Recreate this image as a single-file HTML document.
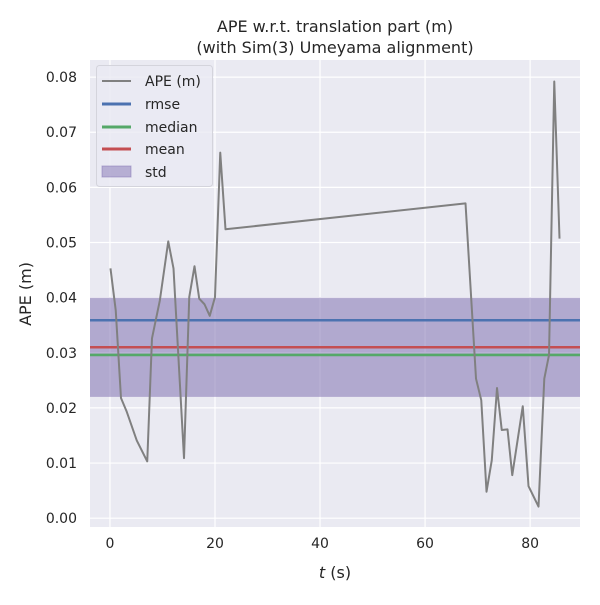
<!DOCTYPE html>
<html><head><meta charset="utf-8"><style>
body{margin:0;background:#fff;}
svg text{font-family:"DejaVu Sans","Liberation Sans",sans-serif;fill:#262626;}
</style></head><body>
<svg id="chart" width="600" height="600">
<text x="335" y="32" font-size="16" text-anchor="middle">APE w.r.t. translation part (m)</text>
<text x="335" y="53" font-size="16" text-anchor="middle">(with Sim(3) Umeyama alignment)</text>
<rect x="90" y="60" width="490" height="467" fill="#eaeaf2"/>
<g id="grid"></g><g id="marks"></g><g id="ticks"></g>
<text x="335" y="578" font-size="16" text-anchor="middle"><tspan font-style="italic">t</tspan> (s)</text>
<text transform="translate(31,294) rotate(-90)" font-size="16" text-anchor="middle">APE (m)</text>
<g>
<rect x="96.5" y="65.5" width="116" height="121" rx="3" fill="#eaeaf2" fill-opacity="0.8" stroke="#d4d4dc"/>
<g><line x1="102" y1="81" x2="131" y2="81" stroke="#808080" stroke-width="2"/><text x="145" y="86" font-size="14">APE (m)</text></g>
<g><line x1="102" y1="104" x2="131" y2="104" stroke="#4c72b0" stroke-width="3"/><text x="145" y="109" font-size="14">rmse</text></g>
<g><line x1="102" y1="127" x2="131" y2="127" stroke="#55a868" stroke-width="3"/><text x="145" y="132" font-size="14">median</text></g>
<g><line x1="102" y1="149" x2="131" y2="149" stroke="#c44e52" stroke-width="3"/><text x="145" y="154" font-size="14">mean</text></g>
<g><rect x="102" y="166" width="29" height="11" fill="#8172b3" fill-opacity="0.5" stroke="#8172b3" stroke-opacity="0.5"/><text x="145" y="177" font-size="14">std</text></g>
</g>
</svg>
<script>
const times=[0.1,1.1,2.1,3.2,5.1,7.1,8.0,9.5,11.1,12.1,14.1,15.1,16.1,17.0,18.0,19.0,20.0,21.0,22.0,67.7,69.7,70.7,71.7,72.7,73.7,74.6,75.7,76.6,78.6,79.7,81.6,82.7,83.6,84.6,85.6];
const apeValues=[0.0453,0.0377,0.0218,0.0193,0.0141,0.0103,0.0326,0.0395,0.0502,0.0453,0.0109,0.0401,0.0457,0.0398,0.0388,0.0367,0.0401,0.0663,0.0524,0.0571,0.0253,0.0214,0.0048,0.0105,0.0236,0.0160,0.0161,0.0078,0.0203,0.0058,0.0021,0.0253,0.0296,0.0792,0.0507];
const rmse=0.0359, median=0.0296, mean=0.0310, std=0.0090;
const xTicks=[0,20,40,60,80];
const yTicks=[0,0.01,0.02,0.03,0.04,0.05,0.06,0.07,0.08];
const yTickLabels=["0.00","0.01","0.02","0.03","0.04","0.05","0.06","0.07","0.08"];
const NS="http://www.w3.org/2000/svg";
const X0=90,X1=580,Y0=60,Y1=527,xmin=-3.8,xmax=89.5,ymin=-0.0016,ymax=0.0831;
const xs=t=>X0+(t-xmin)/(xmax-xmin)*(X1-X0);
const ys=v=>Y1-(v-ymin)/(ymax-ymin)*(Y1-Y0);
function mk(tag,attrs,parent){const e=document.createElementNS(NS,tag);for(const k in attrs)e.setAttribute(k,attrs[k]);document.getElementById(parent).appendChild(e);return e;}
xTicks.forEach(t=>{
 const l=mk('line',{x1:xs(t),x2:xs(t),y1:Y0,y2:Y1,stroke:'#fff','stroke-width':1.2},'grid');
 
 
 const tx=mk('text',{x:xs(t),y:Y1+21,'font-size':14,'text-anchor':'middle'},'ticks');tx.textContent=t;
 
 
});
yTicks.forEach((v,i)=>{
 const l=mk('line',{x1:X0,x2:X1,y1:ys(v),y2:ys(v),stroke:'#fff','stroke-width':1.2},'grid');
 
 
 const tx=mk('text',{x:X0-13,y:ys(v)+5,'font-size':14,'text-anchor':'end'},'ticks');tx.textContent=yTickLabels[i];
 
 
});
const band=mk('rect',{x:X0,width:X1-X0,y:ys(mean+std),height:ys(mean-std)-ys(mean+std),fill:'#8172b3','fill-opacity':0.55},'marks');


[[rmse,'#4c72b0','rmse-line'],[mean,'#c44e52','mean-line'],[median,'#55a868','median-line']].forEach(([v,c,n])=>{
 const l=mk('line',{x1:X0,x2:X1,y1:ys(v),y2:ys(v),stroke:c,'stroke-width':2.6},'marks');
 
 
});
const p=mk('polyline',{points:times.map((t,i)=>xs(t)+','+ys(apeValues[i])).join(' '),fill:'none',stroke:'#808080','stroke-width':2,'stroke-linejoin':'round'},'marks');


</script>
</body></html>
